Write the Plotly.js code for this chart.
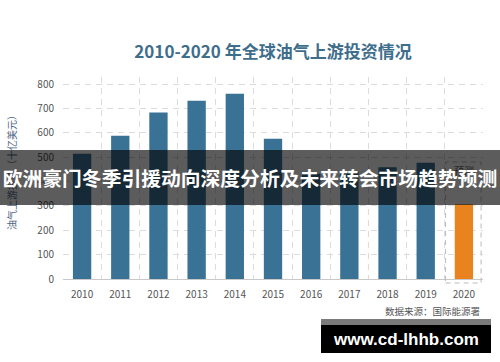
<!DOCTYPE html>
<html><head><meta charset="utf-8">
<script src="https://cdn.plot.ly/plotly-3.0.1.min.js"></script>
<style>html,body{margin:0;padding:0;background:#fff}#chart{width:500px;height:362px}</style>
</head><body><div id="chart"></div>
<script>
// ---- data ----
const years = ['2010','2011','2012','2013','2014','2015','2016','2017','2018','2019','2020'];
const investment = [515, 589, 684, 732, 761, 576, 432, 441, 459, 478, 307];
const forecastYear = '2020';
const yTickVals = [0, 100, 200, 300, 400, 500, 600, 700, 800];
const titleText = '2010-2020 年全球油气上游投资情况';
const yTitleText = '油气上游投资（十亿美元）';
const forecastLabel = '预测';
const sourceText = '数据来源：国际能源署';
const bannerText = '欧洲豪门冬季引援动向深度分析及未来转会市场趋势预测';
const watermarkText = 'www.cd-lhhb.com';

// ---- layout helpers (pixel -> paper) ----
const W = 500, H = 362, L = 63, R = 17, T = 77, B = 83;
const PW = W - L - R, PH = H - T - B;
const fx = p => (p - L) / PW;
const fy = p => (H - B - p) / PH;

const blue = '#3a7296', orange = '#e8831f';
const barColors = years.map(y => y === forecastYear ? orange : blue);
const cjk = '"Noto Sans CJK SC", "Noto Sans", sans-serif';

const trace = {
  type: 'bar', x: years, y: investment,
  marker: {color: barColors, line: {width: 0}},
  width: 0.48, hoverinfo: 'skip'
};

const fIdx = years.indexOf(forecastYear);

const layout = {
  width: W, height: H,
  margin: {l: L, r: R, t: T, b: B, pad: 0},
  paper_bgcolor: '#fff', plot_bgcolor: '#fff',
  showlegend: false,
  font: {family: cjk, size: 10, color: '#555'},
  title: {
    text: '<b>' + titleText + '</b>',
    font: {family: cjk, size: 17, color: '#3e6e8c'},
    xref: 'paper', x: 0.5, xanchor: 'center',
    yref: 'container', y: 1 - 52 / H, yanchor: 'middle'
  },
  xaxis: {
    type: 'category', categoryorder: 'array', categoryarray: years,
    tickson: 'boundaries', ticks: '',
    showgrid: true, gridcolor: '#dcdcdc', griddash: '6px,5px', gridwidth: 1,
    showline: true, linecolor: '#c8c8c8', linewidth: 1,
    tickfont: {family: cjk, size: 10, color: '#555'},
    ticklabelstandoff: 6, zeroline: false, fixedrange: true
  },
  yaxis: {
    range: [0, 830], tickvals: yTickVals, ticks: '',
    showgrid: true, gridcolor: '#dcdcdc', griddash: '6px,5px', gridwidth: 1,
    zeroline: false, showline: false,
    tickfont: {family: cjk, size: 10, color: '#555'},
    ticklabelstandoff: 8, fixedrange: true
  },
  shapes: [
    {type: 'rect', xref: 'x', yref: 'paper',
     x0: fIdx - 0.48, x1: fIdx + 0.45, y0: fy(283), y1: fy(162),
     line: {color: '#bbbbbb', width: 1, dash: '5px,4px'}, fillcolor: 'rgba(0,0,0,0)', layer: 'above'},
    {type: 'rect', xref: 'paper', yref: 'paper',
     x0: fx(321), x1: fx(491), y0: fy(325), y1: fy(319),
     line: {width: 0}, fillcolor: '#7a7a7a', layer: 'above'}
  ],
  annotations: [
    {text: yTitleText, xref: 'paper', yref: 'paper', x: fx(11), y: fy(170),
     xanchor: 'center', yanchor: 'middle', textangle: -90, showarrow: false,
     font: {family: cjk, size: 10, color: '#4d6787'}},
    {text: forecastLabel, xref: 'x', yref: 'paper', x: fIdx, y: fy(170),
     xanchor: 'center', yanchor: 'middle', showarrow: false,
     font: {family: cjk, size: 10, color: '#666'}},
    {text: sourceText, xref: 'paper', yref: 'paper', x: fx(482), y: fy(311),
     xanchor: 'right', yanchor: 'middle', showarrow: false,
     font: {family: cjk, size: 9.5, color: '#555'}},
    {text: '<b>' + bannerText + '</b>', xref: 'paper', yref: 'paper',
     x: fx(250), y: fy(177.5), xanchor: 'center', yanchor: 'middle',
     width: 500, height: 55, borderpad: 0, borderwidth: 0,
     bgcolor: 'rgba(0,0,0,0.64)', showarrow: false,
     font: {family: cjk, size: 19.8, color: '#ffffff'}},
    {text: '<b>' + watermarkText + '</b>', xref: 'paper', yref: 'paper',
     x: fx(406), y: fy(339), xanchor: 'center', yanchor: 'middle',
     width: 170, height: 28, borderpad: 0, borderwidth: 0,
     bgcolor: '#000000', showarrow: false,
     font: {family: '"Liberation Sans", Arial, sans-serif', size: 17, color: '#ffffff'}}
  ]
};

Plotly.newPlot('chart', [trace], layout, {staticPlot: true, displayModeBar: false});
</script>
</body></html>
